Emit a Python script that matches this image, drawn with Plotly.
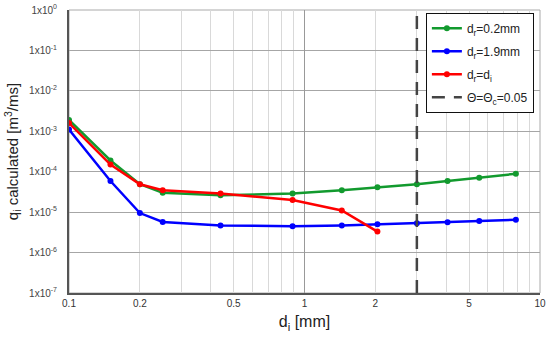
import plotly.graph_objects as go

d_all = [0.1, 0.15, 0.2, 0.25, 0.44, 0.89, 1.44, 2.04, 3.0, 4.05, 5.52, 7.9]
q_green = [1.9e-3, 1.9e-4, 4.9e-5, 3.0e-5, 2.6e-5, 2.9e-5, 3.5e-5, 4.1e-5, 4.9e-5, 5.9e-5, 7.1e-5, 8.9e-5]
q_blue = [1.1e-3, 5.9e-5, 9.5e-6, 5.7e-6, 4.7e-6, 4.5e-6, 4.7e-6, 5.0e-6, 5.3e-6, 5.6e-6, 6.0e-6, 6.5e-6]
d_red = [0.1, 0.15, 0.2, 0.25, 0.44, 0.89, 1.44, 2.04]
q_red = [1.6e-3, 1.5e-4, 4.9e-5, 3.5e-5, 2.9e-5, 2.0e-5, 1.1e-5, 3.3e-6]
theta_c_d = [3.0, 3.0]
theta_c_q = [1e-7, 1e0]

x_tickvals = [0.1, 0.2, 0.5, 1, 2, 5, 10]
x_ticktext = ["0.1", "0.2", "0.5", "1", "2", "5", "10"]
x_minor_grid = [0.2, 0.3, 0.4, 0.5, 0.6, 0.7, 0.8, 0.9, 2, 3, 4, 5, 6, 7, 8, 9]
y_tickvals = [1e-7, 1e-6, 1e-5, 1e-4, 1e-3, 1e-2, 1e-1, 1e0]
y_ticktext = ["1x10<sup>-7</sup>", "1x10<sup>-6</sup>", "1x10<sup>-5</sup>", "1x10<sup>-4</sup>",
              "1x10<sup>-3</sup>", "1x10<sup>-2</sup>", "1x10<sup>-1</sup>", "1x10<sup>0</sup>"]

fig = go.Figure()
fig.add_trace(go.Scatter(x=d_all, y=q_green, mode="lines+markers", name="d<sub>r</sub>=0.2mm",
                         legendgroup="g1",
                         line=dict(color="#129a2e", width=2.5), marker=dict(size=6, color="#129a2e")))
fig.add_trace(go.Scatter(x=d_all, y=q_blue, mode="lines+markers", name="d<sub>r</sub>=1.9mm",
                         legendgroup="g2",
                         line=dict(color="#0000ff", width=2.5), marker=dict(size=6, color="#0000ff")))
fig.add_trace(go.Scatter(x=d_red, y=q_red, mode="lines+markers", name="d<sub>r</sub>=d<sub>i</sub>",
                         legendgroup="g3",
                         line=dict(color="#ff0000", width=2.5), marker=dict(size=6, color="#ff0000")))
fig.add_trace(go.Scatter(x=theta_c_d, y=theta_c_q, mode="lines", name="Θ=Θ<sub>c</sub>=0.05",
                         legendgroup="g4",
                         line=dict(color="#444444", width=2.5, dash="13px,9px")))
# helper axis for the darker gridline at 1
fig.add_trace(go.Scatter(x=[1], y=[1e-3], xaxis="x2", mode="markers", marker=dict(opacity=0),
                         showlegend=False, hoverinfo="skip"))

fig.update_layout(
    width=550, height=340,
    margin=dict(l=69, r=10, t=10, b=47),
    paper_bgcolor="white", plot_bgcolor="white",
    font=dict(family="Liberation Sans, Arial, sans-serif", color="#333333"),
    xaxis=dict(type="log", range=[-1, 1], tickvals=x_tickvals, ticktext=x_ticktext,
               showgrid=False, ticks="", tickfont=dict(size=10), automargin=False,
               ticklabeloverflow="allow",
               minor=dict(tickvals=x_minor_grid, showgrid=True, gridcolor="#d9d9d9", gridwidth=1, ticks=""),
               showline=True, linecolor="#555555", linewidth=2, mirror=False, zeroline=False,
               title=dict(text="d<sub>i</sub> [mm]", font=dict(size=16, color="#222222"), standoff=8)),
    xaxis2=dict(type="log", range=[-1, 1], overlaying="x", tickvals=[1], showticklabels=False,
                showgrid=True, gridcolor="#999999", gridwidth=1, ticks="", showline=False, zeroline=False),
    yaxis=dict(type="log", range=[-7, 0], tickvals=y_tickvals, ticktext=y_ticktext, automargin=False,
               showgrid=True, gridcolor="#a6a6a6", gridwidth=1, ticks="", tickfont=dict(size=10, color="#444444"),
               ticklabelstandoff=8, ticklabeloverflow="allow",
               showline=True, linecolor="#555555", linewidth=2, zeroline=False,
               title=dict(text="q<sub>i</sub> calculated [m<sup>3</sup>/ms]", font=dict(size=15, color="#222222"), standoff=7)),
    legend=dict(x=0.987, y=0.99, xanchor="right", yanchor="top", bgcolor="white",
                bordercolor="#111111", borderwidth=1, font=dict(size=12, color="#222222"),
                tracegroupgap=4),
    shapes=[dict(type="rect", xref="paper", yref="paper", x0=0, x1=1, y0=0, y1=1,
                 line=dict(color="#aaaaaa", width=1), layer="below")],
)

fig.write_html("out.html", config={"displayModeBar": False},
               post_script="document.body.style.margin='0';")
